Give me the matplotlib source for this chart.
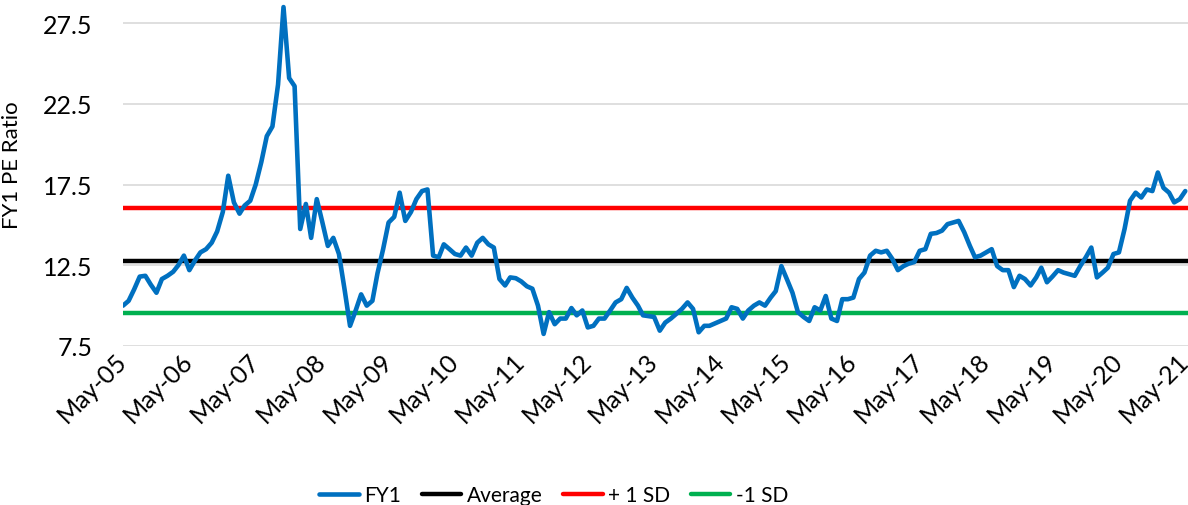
import matplotlib
matplotlib.use("Agg")
import matplotlib.pyplot as plt
import matplotlib.dates as mdates
import pandas as pd

# Monthly FY1 PE ratio, May-05 .. May-21
fy1 = [
    10.0, 10.3, 11.0, 11.8, 11.85, 11.3, 10.8, 11.65, 11.85, 12.1,
    12.5, 13.1, 12.2, 12.8, 13.3, 13.5, 13.9, 14.6, 15.8, 18.05,
    16.4, 15.7, 16.2, 16.5, 17.5, 18.9, 20.5, 21.1, 23.7, 28.5,
    24.1, 23.6, 14.75, 16.3, 14.2, 16.6, 15.2, 13.7, 14.2, 13.2,
    11.0, 8.75, 9.7, 10.7, 10.0, 10.3, 12.0, 13.5, 15.15, 15.5,
    17.0, 15.25, 15.8, 16.6, 17.1, 17.2, 13.1, 13.0, 13.8, 13.5,
    13.2, 13.1, 13.6, 13.1, 13.9, 14.2, 13.8, 13.6, 11.65, 11.25,
    11.75, 11.7, 11.5, 11.2, 11.05, 10.0, 8.25, 9.6, 8.85, 9.2,
    9.2, 9.85, 9.4, 9.7, 8.65, 8.75, 9.2, 9.2, 9.7, 10.2,
    10.4, 11.1, 10.5, 10.0, 9.4, 9.35, 9.3, 8.45, 8.95, 9.2,
    9.5, 9.8, 10.2, 9.8, 8.35, 8.75, 8.75, 8.9, 9.05, 9.2,
    9.9, 9.8, 9.2, 9.7, 10.0, 10.2, 10.0, 10.5, 10.9, 12.45,
    11.65, 10.8, 9.6, 9.3, 9.05, 9.9, 9.7, 10.6, 9.2, 9.05,
    10.4, 10.4, 10.5, 11.65, 12.05, 13.1, 13.4, 13.3, 13.4, 12.9,
    12.2, 12.45, 12.6, 12.7, 13.4, 13.5, 14.45, 14.5, 14.65, 15.05,
    15.15, 15.25, 14.55, 13.7, 13.0, 13.1, 13.3, 13.5, 12.45, 12.2,
    12.2, 11.15, 11.85, 11.65, 11.25, 11.75, 12.35, 11.45, 11.8, 12.2,
    12.05, 11.95, 11.85, 12.45, 13.0, 13.6, 11.75, 12.05, 12.35, 13.2,
    13.3, 14.75, 16.5, 17.0, 16.7, 17.2, 17.1, 18.25, 17.3, 17.0,
    16.4, 16.6, 17.1,
]
average = 12.77
plus_1sd = 16.02
minus_1sd = 9.52

start_date = "2005-05-01"
end_tick = "2021-05-01"
y_ticks = [7.5, 12.5, 17.5, 22.5, 27.5]
series_labels = ["FY1", "Average", "+ 1 SD", "-1 SD"]

dates = pd.date_range(start_date, periods=len(fy1), freq="MS")
tick_dates = pd.date_range(start_date, end_tick, freq="12MS")

plt.rcParams["font.family"] = ["Lato", "DejaVu Sans"]

W, H = 1188, 506
fig = plt.figure(figsize=(W / 100, H / 100), dpi=100)
left, bottom_px = 123, 347
ax = fig.add_axes([left / W, 1 - bottom_px / H, 1 - left / W, bottom_px / H])

ax.plot(dates, fy1, color="#0070C0", lw=3.3, label=series_labels[0],
        solid_joinstyle="round", solid_capstyle="round", zorder=3)
ax.axhline(average, color="black", lw=3.2, label=series_labels[1],
           solid_capstyle="round", zorder=2)
ax.axhline(plus_1sd, color="#FF0000", lw=3.2, label=series_labels[2],
           solid_capstyle="round", zorder=2)
ax.axhline(minus_1sd, color="#00B050", lw=3.2, label=series_labels[3],
           solid_capstyle="round", zorder=2)

ax.set_ylim(7.5, 29.0)
ax.set_xlim(pd.Timestamp(start_date), pd.Timestamp("2021-05-16"))
ax.set_yticks(y_ticks)
ax.set_yticklabels([f"{v:.1f}" for v in y_ticks])
ax.set_xticks(tick_dates)
ax.xaxis.set_major_formatter(mdates.DateFormatter("%b-%y"))

ax.grid(axis="y", color="#D9D9D9", lw=1.2)
ax.set_axisbelow(True)
for s in ax.spines.values():
    s.set_visible(False)
ax.tick_params(axis="both", length=0, labelsize=18, colors="black")
ax.tick_params(axis="y", pad=22)
ax.tick_params(axis="x", pad=8)
for lbl in ax.get_xticklabels():
    lbl.set_rotation(45)
    lbl.set_ha("right")
    lbl.set_va("center")
    lbl.set_rotation_mode("anchor")

ax.set_ylabel("FY1 PE Ratio", fontsize=16)
ax.yaxis.set_label_coords(-0.095, 0.524)

fig.legend(loc="center", bbox_to_anchor=(0.466, 0.02), ncol=4, frameon=False,
           fontsize=15, handlelength=1.9, handletextpad=0.25, columnspacing=1.0)

fig.savefig("out.png", dpi=100)
